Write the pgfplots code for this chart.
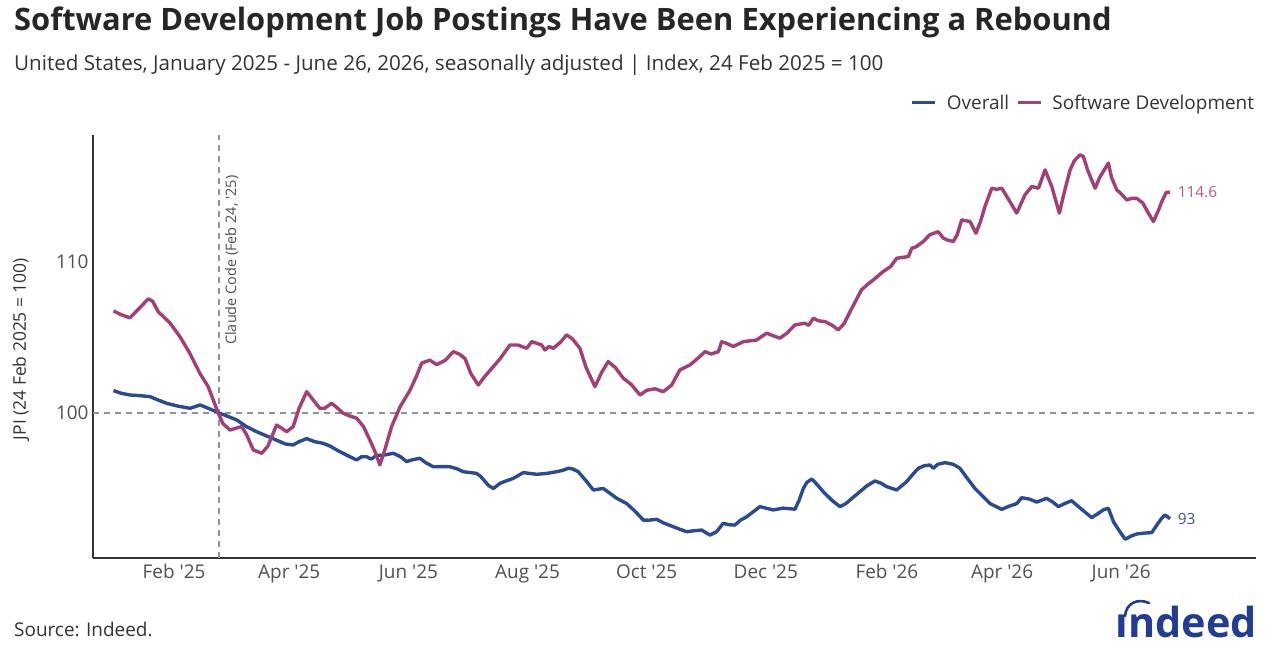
\documentclass[border=0pt]{standalone}
\usepackage{fontspec}
\setmainfont{Open Sans}
\usepackage{pgfplots}
\pgfplotsset{compat=1.18}
\definecolor{jblue}{RGB}{43,74,150}
\definecolor{jpink}{RGB}{164,62,118}
\definecolor{txt}{RGB}{51,51,51}
\definecolor{tickc}{RGB}{80,80,80}
\definecolor{logoc}{RGB}{34,60,148}
\newcommand\q{\textquotesingle}
\begin{document}
\begin{tikzpicture}[x=1bp,y=1bp]
\begin{axis}[
  name=ax, scale only axis,
  width=1163bp, height=423bp,
  xmin=-10.5, xmax=585, ymin=90.4, ymax=118.4,
  axis x line*=bottom, axis y line*=left,
  axis line style={line width=1.6bp, draw=black!80, -},
  xtick={31,90,151,212,273,334,396,455,516},
  xticklabels={Feb \q25, Apr \q25, Jun \q25, Aug \q25, Oct \q25, Dec \q25, Feb \q26, Apr \q26, Jun \q26},
  ytick={100,110},
  major tick length=0pt,
  tick label style={font=\fontsize{19}{22}\selectfont, text=tickc},
  /pgf/number format/assume math mode=true,
  xticklabel style={yshift=-3bp},
  yticklabel style={xshift=-1bp},
  ylabel={JPI (24 Feb 2025 = 100)},
  every axis y label/.style={at={(axis description cs:-0.062,0.494)}, rotate=90, anchor=center, font=\fontsize{17.5}{20}\selectfont, text=txt},
  clip=false,
  legend columns=2,
  legend style={at={(1,1.0757)}, anchor=east, draw=none, fill=none, inner sep=0pt, outer sep=0pt,
    font=\fontsize{19}{22}\selectfont, text=txt,
    /tikz/every even column/.append style={column sep=5bp}},
  legend image code/.code={\draw[#1, line width=3bp] (0bp,0bp) -- (23bp,0bp); \path (31bp,0bp);},
]
\coordinate (O) at (axis cs:-10.5,90.4);
\draw[gray!85, dashed, line width=1.1bp, dash pattern=on 6bp off 5bp] (axis cs:-10.5,100) -- (axis cs:585,100);
\draw[gray!85, dashed, line width=1.1bp, dash pattern=on 6bp off 5bp] (axis cs:54,90.4) -- (axis cs:54,118.4);
\node[xshift=6bp, rotate=90, anchor=north west, inner sep=0, font=\fontsize{14.5}{16}\selectfont, text=tickc] at (axis cs:54,104.5) {Claude Code (Feb 24, \q25)};
\addplot[jblue, line width=3.4bp, line join=round, no marks] coordinates {
(0,101.48)(4,101.3)(8.4,101.19)(13,101.15)(18.7,101.08)(23,100.85)(27.2,100.64)(33,100.45)(39.2,100.31)(44.3,100.53)(48.5,100.31)(54.5,99.98)(58,99.8)(63.1,99.54)(68,99.1)(73.3,98.76)(78,98.5)(83.5,98.2)(88,97.95)(92,97.88)(95,98.1)(98.9,98.3)(103,98.1)(107.4,97.99)(111,97.8)(114.3,97.55)(118,97.3)(121.1,97.1)(124.5,96.89)(127,97.1)(129.6,97.1)(132,96.95)(134.7,97.2)(138,97.2)(143.3,97.33)(147,97.1)(150.1,96.78)(153,96.9)(156.9,97.0)(160,96.7)(163.7,96.44)(168,96.45)(172.3,96.44)(176,96.3)(179.1,96.11)(183,96.05)(185.9,96.0)(188,95.8)(192,95.2)(194.5,95.0)(197.9,95.34)(201,95.5)(204.7,95.67)(209.8,96.05)(213,96.0)(216.7,95.94)(222,96.0)(226.9,96.11)(230,96.2)(232.9,96.34)(235,96.3)(238,96.11)(242,95.5)(245.7,94.9)(248,94.95)(250.8,95.0)(254,94.7)(257.7,94.35)(262.8,94.0)(267,93.5)(271.3,92.91)(274,92.9)(278.1,92.96)(282,92.7)(286.6,92.47)(290,92.3)(293.5,92.14)(297,92.2)(301.2,92.25)(303,92.1)(305.4,91.92)(308.8,92.14)(312.2,92.7)(315,92.6)(318.2,92.58)(321,92.9)(324.2,93.13)(328,93.5)(331,93.8)(334,93.7)(337.8,93.58)(342.9,93.7)(348.9,93.63)(351,94.2)(353.2,95.0)(355,95.4)(357.5,95.63)(360,95.3)(363.4,94.79)(368,94.2)(372,93.8)(375,94.0)(377.1,94.24)(382.2,94.79)(386,95.2)(389.9,95.5)(393,95.35)(395.9,95.12)(401,94.9)(406.1,95.45)(409,95.9)(412.1,96.34)(415,96.5)(418,96.56)(419.8,96.34)(422,96.6)(425.8,96.71)(430,96.6)(433.4,96.34)(437,95.7)(441.1,95.0)(445,94.5)(448.8,94.0)(452,93.8)(454.8,93.62)(458,93.8)(462.5,94.0)(465,94.39)(469,94.3)(472.7,94.1)(477.8,94.35)(481,94.1)(483.8,93.8)(487,94.0)(490.6,94.19)(495,93.7)(500.9,93.07)(504.3,93.36)(507,93.6)(509.4,93.69)(512,92.8)(515,92.2)(518,91.64)(521,91.85)(524,91.99)(528,92.05)(531.6,92.08)(534.2,92.58)(536.5,93.0)(538.4,93.25)(541,93.0)
} node[pos=1, anchor=west, inner sep=0, xshift=6bp, font=\fontsize{15.5}{18}\selectfont, text=jblue!80!gray] {93};
\addlegendentry{Overall}
\addplot[jpink, line width=3.4bp, line join=round, no marks] coordinates {
(0,106.75)(4,106.5)(8.4,106.3)(13,106.9)(17.8,107.55)(20,107.4)(22.9,106.7)(28.9,105.96)(34,105.05)(39,103.97)(44.3,102.6)(48.5,101.74)(53.6,100.0)(56,99.3)(59.6,98.87)(63,99.0)(65.6,99.1)(68,98.6)(71.6,97.55)(75.9,97.33)(79,97.8)(83.5,99.2)(86,99.0)(88.7,98.76)(92,99.1)(95,100.3)(98.9,101.41)(102,100.9)(105.7,100.3)(108,100.3)(111.7,100.64)(114,100.4)(117.6,99.98)(121,99.8)(124.5,99.65)(128,99.1)(131.3,98.2)(134,97.4)(136.4,96.56)(139,97.6)(142.4,99.1)(146.7,100.4)(151.8,101.5)(155,102.4)(157.8,103.3)(162,103.5)(165.5,103.2)(170,103.5)(174,104.06)(177,103.9)(180,103.6)(183,102.6)(186.8,101.85)(190,102.4)(194.5,103.07)(198,103.6)(203,104.5)(207,104.5)(211.6,104.28)(214.1,104.72)(217,104.6)(219.2,104.5)(220.9,104.17)(223,104.4)(225.2,104.28)(229,104.7)(232,105.17)(235,104.9)(238.8,104.28)(242,103.0)(246.5,101.74)(250,102.7)(253.3,103.4)(257,103.0)(261,102.3)(265,101.9)(269.6,101.19)(273,101.5)(277.2,101.6)(281.5,101.41)(285.8,101.85)(290,102.85)(295.2,103.18)(299,103.6)(302.9,104.06)(306,103.9)(309.7,104.06)(311.4,104.72)(314,104.6)(317.3,104.4)(322.5,104.72)(329.3,104.83)(334.4,105.28)(338,105.1)(341.2,104.95)(345,105.3)(348.9,105.83)(354,105.94)(356,105.8)(358.3,106.27)(361,106.1)(364.3,106.05)(368,105.8)(371.1,105.5)(374,105.9)(377.1,106.7)(383,108.15)(386,108.5)(389,108.8)(394.1,109.36)(398,109.7)(401,110.24)(404,110.3)(407,110.35)(408.7,110.9)(411,111.0)(414.6,111.35)(418,111.8)(422.3,112.0)(424.9,111.57)(427,111.45)(430,111.35)(432,111.8)(434.3,112.78)(438.6,112.67)(441.6,111.9)(444,112.7)(446.2,113.66)(449.7,114.88)(452,114.8)(454.8,114.88)(458,114.2)(462.5,113.23)(466.7,114.44)(470.2,114.99)(473.6,114.88)(477,116.09)(480.4,114.99)(484.3,113.23)(487,114.7)(489.8,116.09)(492,116.7)(494.9,117.09)(496.6,116.97)(499,116.0)(502.6,114.88)(505,115.6)(509.4,116.54)(511,115.6)(513.7,114.77)(516,114.5)(518.8,114.1)(521,114.2)(524,114.2)(527,113.9)(530,113.2)(532.5,112.67)(535,113.4)(536.8,114.0)(539,114.6)(541,114.6)
} node[pos=1, anchor=west, inner sep=0, xshift=6bp, font=\fontsize{15.5}{18}\selectfont, text=jpink!85!white] {114.6};
\addlegendentry{Software Development}
\end{axis}
\pgfresetboundingbox
\begin{scope}[shift={(O)}, xshift=-93bp, yshift=-101bp]
\useasboundingbox (0,0) rectangle (1280,659);
\node[anchor=base west, font=\bfseries\fontsize{31}{36}\selectfont, text=black!85, inner sep=0] at (14,659-31) {Software Development Job Postings Have Been Experiencing a Rebound};
\node[anchor=base west, font=\fontsize{20.7}{24}\selectfont, text=txt, inner sep=0] at (14,659-71) {United States, January 2025 - June 26, 2026, seasonally adjusted | Index, 24 Feb 2025 = 100};
\node[anchor=base west, font=\fontsize{19}{22}\selectfont, text=txt, inner sep=0] at (14,659-637) {Source: Indeed.};
\node[anchor=base east, font=\bfseries\fontsize{41.5}{46}\selectfont, text=logoc, inner sep=0] at (1257,659-638) {ındeed};
\draw[logoc, line width=2.6bp, line cap=round] (1125,659-616) .. controls (1126,659-603) and (1138,659-598) .. (1149,659-603);
\end{scope}
\end{tikzpicture}
\end{document}
